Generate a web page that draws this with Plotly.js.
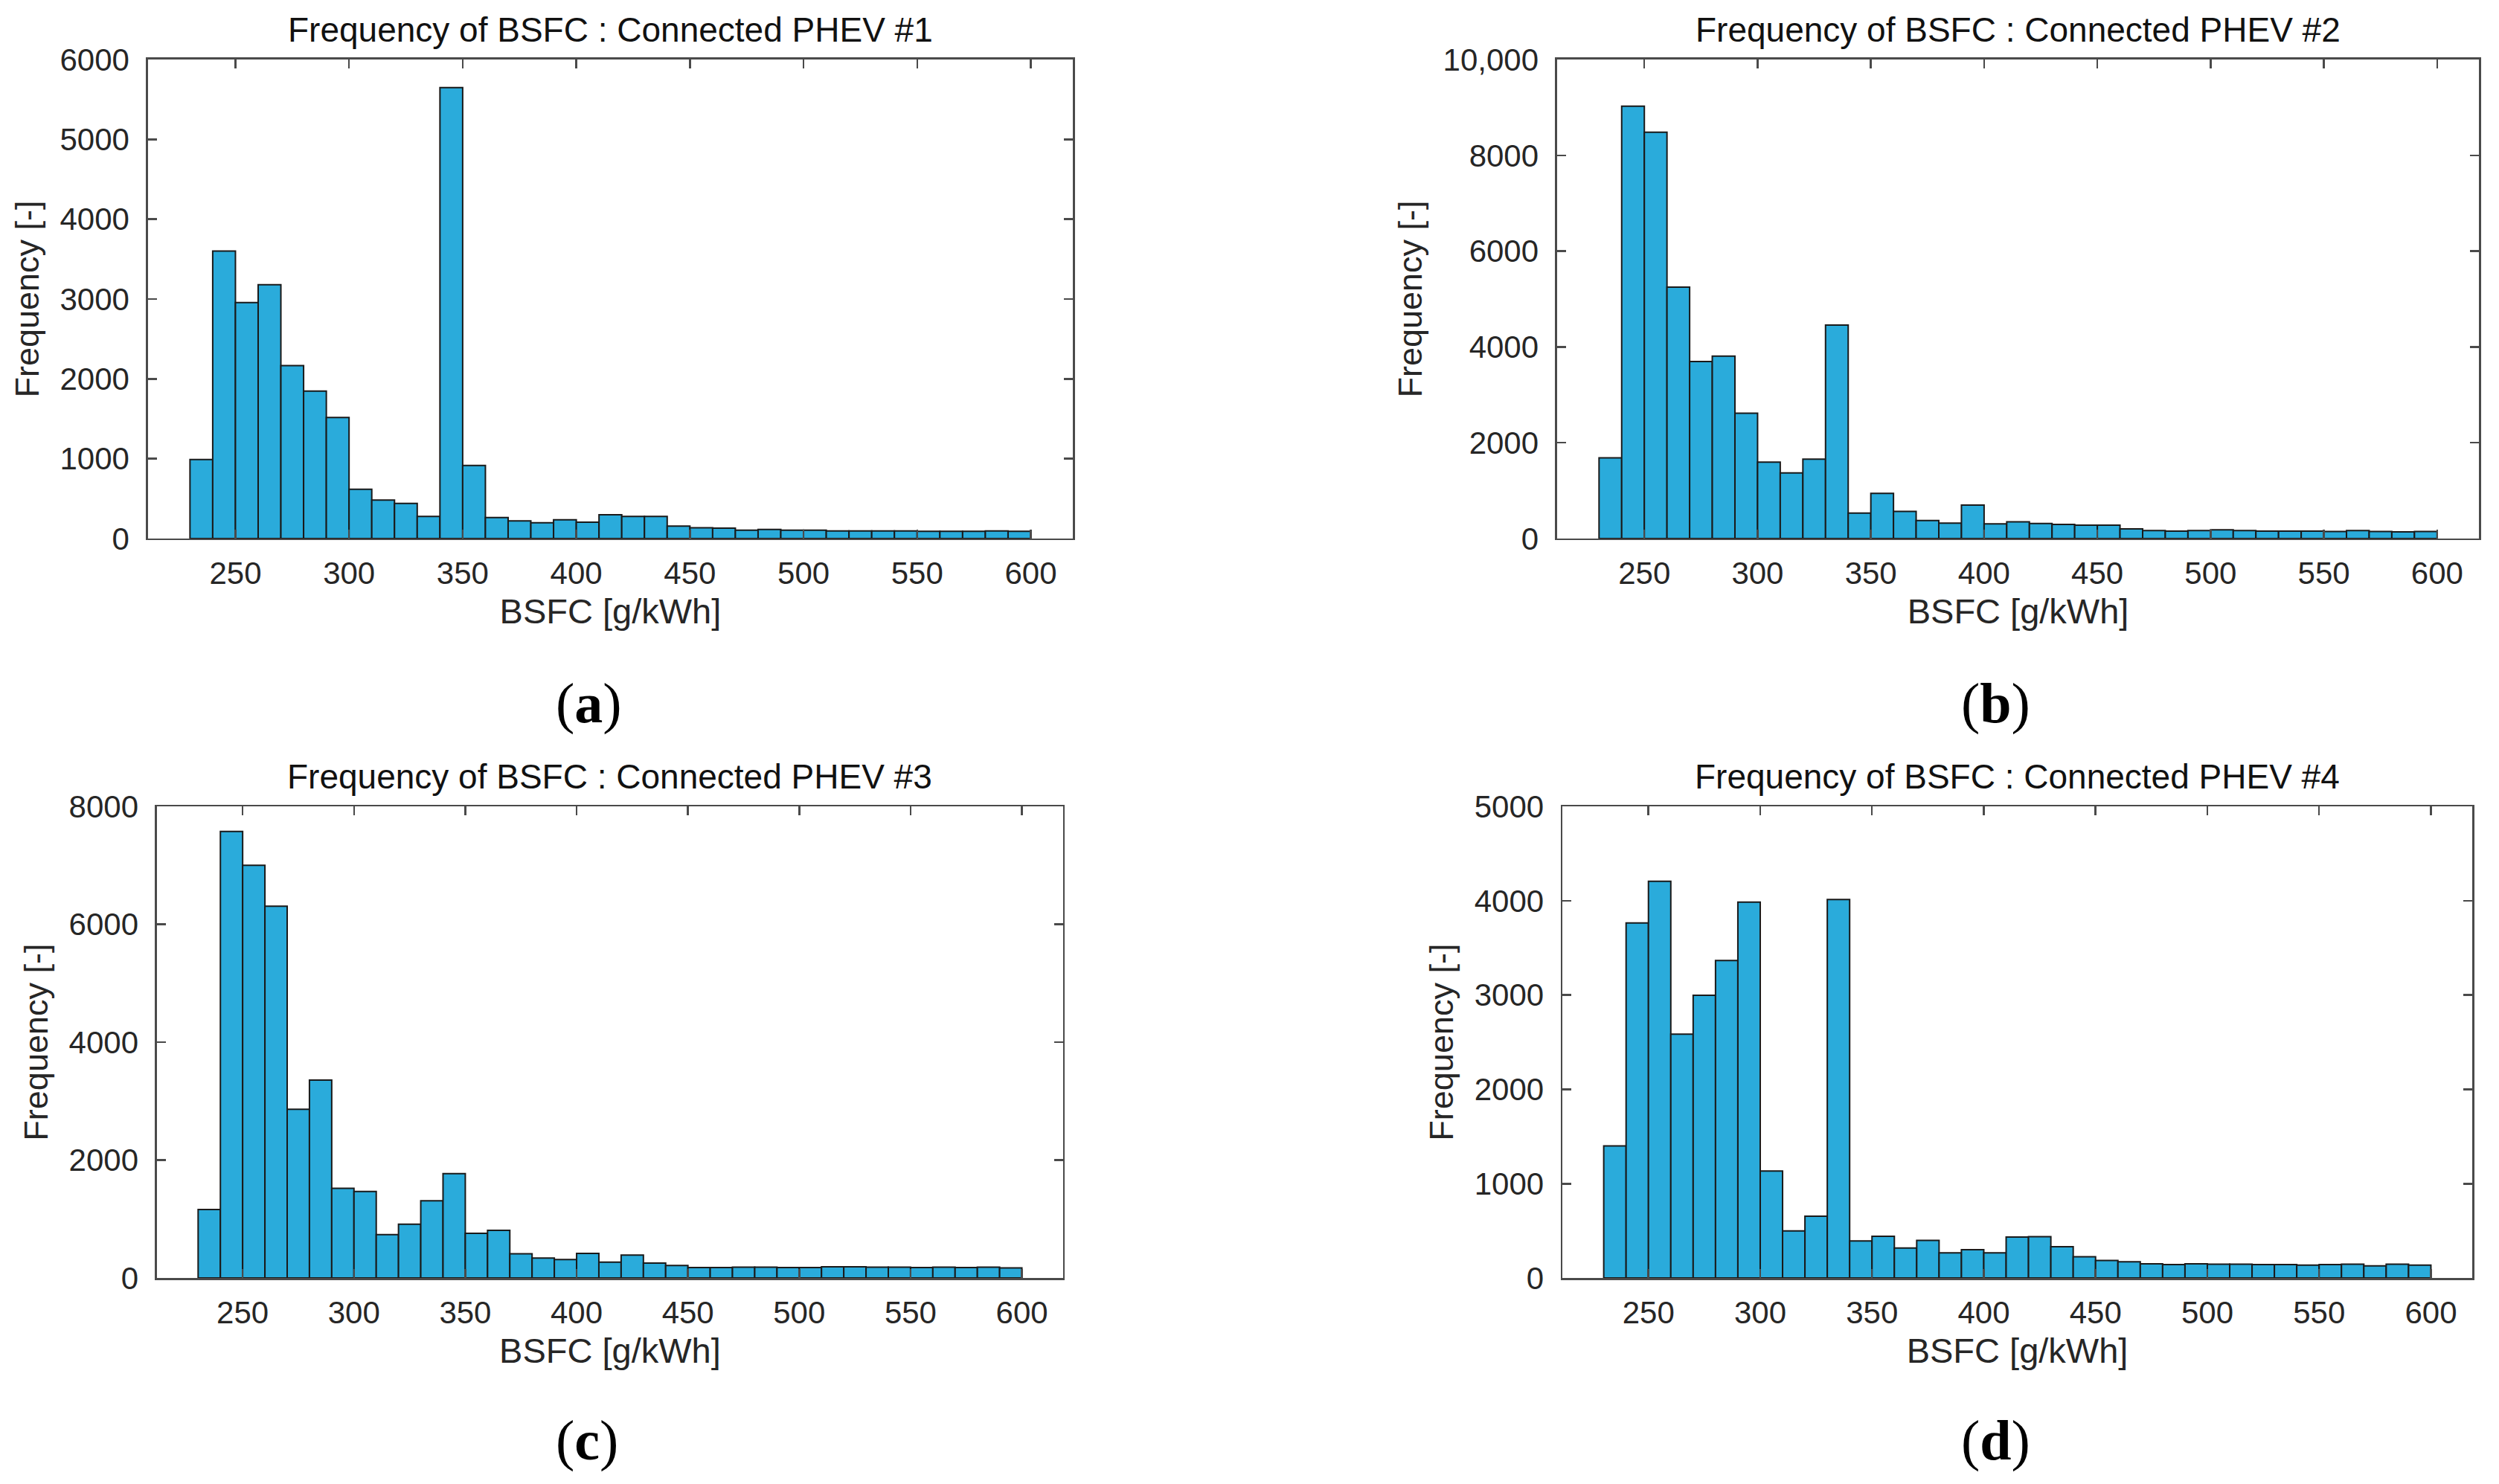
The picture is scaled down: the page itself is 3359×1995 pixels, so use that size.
<!DOCTYPE html>
<html>
<head>
<meta charset="utf-8">
<script src="https://cdn.plot.ly/plotly-3.0.1.min.js"></script>
<style>
  html, body { margin: 0; padding: 0; background: #fff; }
  #chart { width: 3359px; height: 1995px; }
</style>
</head>
<body>
<div id="chart"></div>
<script>
// bin centres, 10 g/kWh bins from 230 to 600
const bsfcBins = [235, 245, 255, 265, 275, 285, 295, 305, 315, 325, 335, 345, 355, 365, 375,
  385, 395, 405, 415, 425, 435, 445, 455, 465, 475, 485, 495, 505, 515, 525, 535, 545, 555,
  565, 575, 585, 595];

const phev1 = [990, 3600, 2955, 3180, 2165, 1846, 1517, 617, 481, 440, 277, 5648, 915, 262, 220,
  199, 235, 204, 298, 277, 277, 157, 136, 130, 105, 115, 105, 105, 95, 95, 95, 95, 90,
  90, 90, 95, 90];
const phev2 = [1683, 9024, 8483, 5248, 3697, 3810, 2616, 1596, 1369, 1657, 4455, 532, 942, 567, 375,
  323, 697, 305, 349, 314, 296, 279, 279, 200, 166, 157, 166, 183, 166, 157, 157, 157, 148,
  166, 148, 140, 148];
const phev3 = [1162, 7575, 7001, 6307, 2863, 3359, 1523, 1467, 737, 914, 1311, 1771, 758, 808, 411,
  340, 312, 418, 269, 390, 255, 213, 177, 177, 184, 184, 177, 177, 191, 191, 184, 184, 177,
  184, 177, 184, 170];
const phev4 = [1400, 3764, 4207, 2586, 2998, 3366, 3986, 1134, 500, 655, 4012, 394, 443, 319, 399,
  266, 301, 266, 434, 438, 332, 226, 186, 173, 151, 142, 151, 146, 146, 142, 142, 137, 142,
  146, 128, 146, 137];

const xTicks = [250, 300, 350, 400, 450, 500, 550, 600];
const yTicks1 = [0, 1000, 2000, 3000, 4000, 5000, 6000];
const yTicks2 = [0, 2000, 4000, 6000, 8000, 10000];
const yTickText2 = ['0', '2000', '4000', '6000', '8000', '10,000'];
const yTicks3 = [0, 2000, 4000, 6000, 8000];
const yTicks4 = [0, 1000, 2000, 3000, 4000, 5000];

const panelTitles = [
  'Frequency of BSFC : Connected PHEV #1',
  'Frequency of BSFC : Connected PHEV #2',
  'Frequency of BSFC : Connected PHEV #3',
  'Frequency of BSFC : Connected PHEV #4'
];
const panelLabels = ['(<b>a</b>)', '(<b>b</b>)', '(<b>c</b>)', '(<b>d</b>)'];

const FONT = '"Liberation Sans", Arial, sans-serif';
const AXIS_COL = '#4a4a4a';
const TEXT_COL = '#262626';

const panels = [
  { y: phev1, ticks: yTicks1, text: yTicks1.map(String), max: 6000,
    xd: [0.0592, 0.4293], yd: [0.6371, 0.9599], lab: [0.2355, 0.5263] },
  { y: phev2, ticks: yTicks2, text: yTickText2, max: 10000,
    xd: [0.6231, 0.9920], yd: [0.6371, 0.9599], lab: [0.7985, 0.5263] },
  { y: phev3, ticks: yTicks3, text: yTicks3.map(String), max: 8000,
    xd: [0.0628, 0.4254], yd: [0.1388, 0.4566], lab: [0.2350, 0.0293] },
  { y: phev4, ticks: yTicks4, text: yTicks4.map(String), max: 5000,
    xd: [0.6252, 0.9893], yd: [0.1388, 0.4566], lab: [0.7985, 0.0293] }
];

const data = [];
const layout = {
  width: 3359,
  height: 1995,
  margin: { l: 0, r: 0, t: 0, b: 0 },
  paper_bgcolor: '#fff',
  plot_bgcolor: '#fff',
  showlegend: false,
  bargap: 0,
  font: { family: FONT, color: TEXT_COL, size: 41 },
  annotations: []
};

panels.forEach((p, i) => {
  const n = i === 0 ? '' : String(i + 1);
  data.push({
    type: 'bar',
    x: bsfcBins,
    y: p.y,
    width: 10,
    xaxis: 'x' + n,
    yaxis: 'y' + n,
    marker: { color: '#2aabdb', line: { color: '#1a1a1a', width: 2 } },
    hoverinfo: 'x+y'
  });

  const common = {
    showline: true,
    linecolor: AXIS_COL,
    linewidth: 2.5,
    mirror: 'ticks',
    ticks: 'inside',
    ticklen: 12,
    tickwidth: 2.5,
    tickcolor: AXIS_COL,
    showgrid: false,
    zeroline: false,
    tickfont: { family: FONT, size: 42, color: TEXT_COL }
  };

  layout['xaxis' + n] = Object.assign({}, common, {
    domain: p.xd,
    anchor: 'y' + n,
    range: [211.5, 618.5],
    tickmode: 'array',
    tickvals: xTicks,
    ticklabelstandoff: 8,
    title: { text: 'BSFC [g/kWh]', font: { family: FONT, size: 47, color: TEXT_COL }, standoff: 12 }
  });
  layout['yaxis' + n] = Object.assign({}, common, {
    domain: p.yd,
    anchor: 'x' + n,
    range: [0, p.max],
    tickmode: 'array',
    tickvals: p.ticks,
    ticktext: p.text,
    ticklabelstandoff: 14,
    title: { text: 'Frequency [-]', font: { family: FONT, size: 45, color: TEXT_COL }, standoff: 14 }
  });

  layout.annotations.push({
    text: panelTitles[i],
    xref: 'paper', yref: 'paper',
    x: (p.xd[0] + p.xd[1]) / 2,
    y: p.yd[1],
    yshift: 40,
    xanchor: 'center', yanchor: 'middle',
    showarrow: false,
    font: { family: FONT, size: 46, color: '#111' }
  });
  layout.annotations.push({
    text: panelLabels[i],
    xref: 'paper', yref: 'paper',
    x: p.lab[0], y: p.lab[1],
    xanchor: 'center', yanchor: 'middle',
    showarrow: false,
    font: { family: '"Liberation Serif", "Times New Roman", serif', size: 76, color: '#000' }
  });
});

Plotly.newPlot('chart', data, layout, { displayModeBar: false, staticPlot: true });
</script>
</body>
</html>
